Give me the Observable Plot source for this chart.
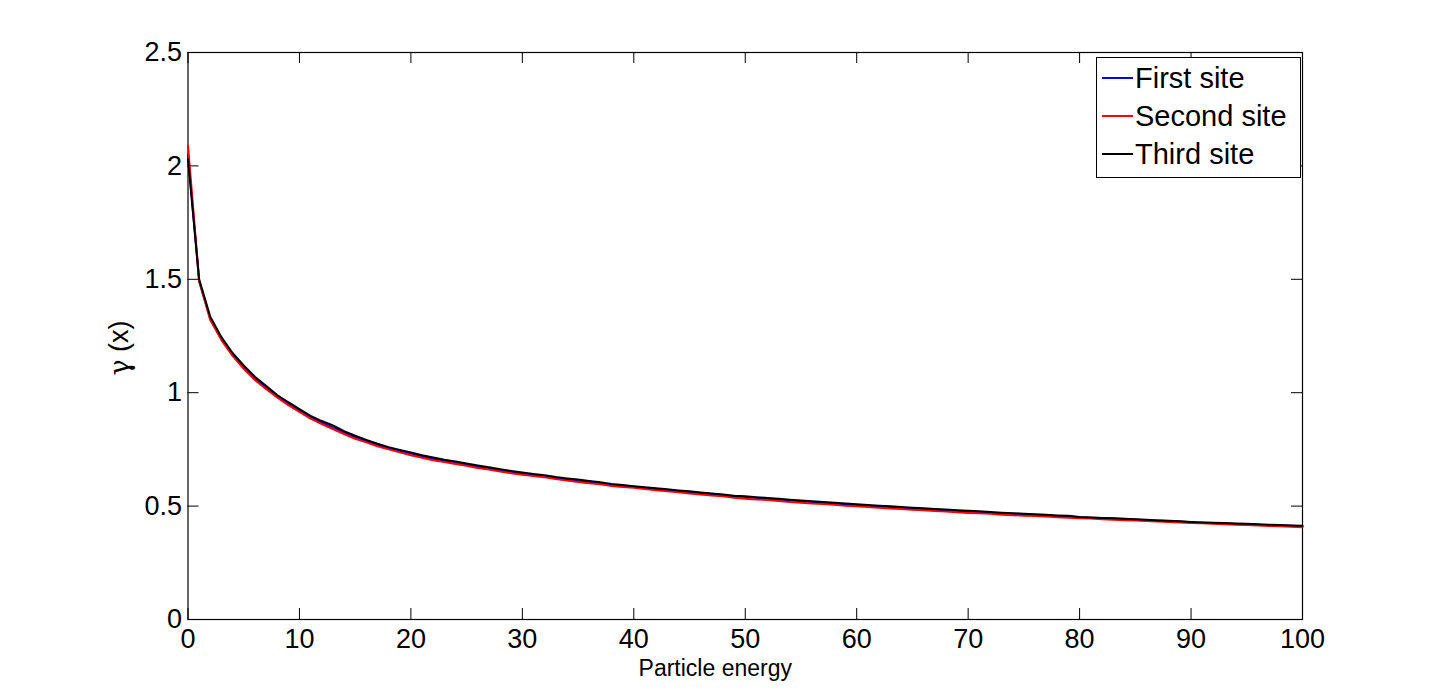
<!DOCTYPE html>
<html>
<head>
<meta charset="utf-8">
<script src="https://cdn.jsdelivr.net/npm/d3@7"></script>
<script src="https://cdn.jsdelivr.net/npm/@observablehq/plot@0.6"></script>
<style>
  html, body { margin: 0; padding: 0; background: white; }
  #chart svg { display: block; }
</style>
</head>
<body>
<div id="chart"></div>
<script>
// ---- data ----
const energy = d3.range(0, 101); // x positions 0..100 (sample grid)
const firstSite = [2.05,1.49,1.325,1.238,1.168,1.112,1.062,1.022,0.985,0.951,0.922,0.893,0.868,0.847,0.824,0.804,0.787,0.770,0.756,0.744,0.732,0.719,0.709,0.701,0.692,0.683,0.674,0.667,0.659,0.651,0.643,0.637,0.632,0.624,0.618,0.611,0.607,0.601,0.594,0.590,0.585,0.580,0.575,0.571,0.566,0.561,0.558,0.553,0.549,0.543,0.540,0.536,0.532,0.529,0.525,0.521,0.518,0.515,0.512,0.508,0.505,0.502,0.499,0.496,0.493,0.490,0.487,0.484,0.482,0.479,0.476,0.473,0.471,0.468,0.466,0.464,0.461,0.459,0.456,0.454,0.451,0.449,0.447,0.445,0.443,0.441,0.438,0.436,0.434,0.432,0.429,0.427,0.425,0.423,0.421,0.420,0.418,0.416,0.414,0.413,0.411];
const secondSite = [2.09,1.495,1.32,1.232,1.162,1.105,1.056,1.016,0.979,0.945,0.915,0.886,0.862,0.840,0.818,0.797,0.781,0.764,0.750,0.737,0.724,0.713,0.702,0.694,0.686,0.678,0.668,0.661,0.653,0.645,0.638,0.633,0.627,0.619,0.613,0.606,0.601,0.596,0.589,0.584,0.581,0.575,0.570,0.566,0.561,0.556,0.551,0.547,0.543,0.537,0.532,0.529,0.527,0.523,0.518,0.515,0.512,0.509,0.506,0.501,0.499,0.496,0.493,0.489,0.487,0.484,0.482,0.478,0.476,0.473,0.470,0.468,0.466,0.462,0.460,0.458,0.456,0.454,0.451,0.449,0.446,0.445,0.442,0.440,0.438,0.437,0.434,0.432,0.430,0.428,0.425,0.424,0.422,0.420,0.418,0.417,0.414,0.412,0.411,0.409,0.407];
const thirdSite = [2.03,1.50,1.335,1.245,1.175,1.12,1.07,1.03,0.99,0.958,0.928,0.898,0.875,0.856,0.83,0.81,0.792,0.775,0.76,0.748,0.736,0.724,0.714,0.704,0.697,0.688,0.679,0.671,0.663,0.655,0.648,0.642,0.636,0.628,0.622,0.617,0.611,0.605,0.598,0.593,0.588,0.583,0.579,0.574,0.569,0.565,0.56,0.556,0.551,0.546,0.543,0.539,0.536,0.532,0.528,0.525,0.521,0.518,0.515,0.511,0.508,0.505,0.502,0.499,0.496,0.493,0.49,0.487,0.485,0.482,0.479,0.477,0.474,0.471,0.469,0.466,0.464,0.462,0.459,0.457,0.452,0.450,0.448,0.446,0.444,0.442,0.440,0.437,0.435,0.433,0.43,0.428,0.427,0.425,0.423,0.422,0.42,0.418,0.417,0.415,0.413];
const seriesNames = ["First site", "Second site", "Third site"];
const seriesColors = ["#0000ff", "#ff0000", "#000000"];
const xTicks = [0,10,20,30,40,50,60,70,80,90,100];
const yTicks = [0,0.5,1,1.5,2,2.5];
const xLabel = "Particle energy";

// ---- build rows ----
const seriesValues = [firstSite, secondSite, thirdSite];
const rows = [];
seriesValues.forEach((vals, s) => vals.forEach((v, i) => rows.push({x: energy[i], y: v, series: seriesNames[s]})));

const W = 1440, H = 696;
const mL = 187.5, mR = 138, mT = 52, mB = 77;
const innerW = W - mL - mR, innerH = H - mT - mB;
const tick = 11;

const chart = Plot.plot({
  width: W, height: H,
  marginLeft: mL, marginRight: mR, marginTop: mT, marginBottom: mB,
  x: {domain: [0, 100]},
  y: {domain: [0, 2.5]},
  style: {fontFamily: "'Liberation Sans', Arial, Helvetica, sans-serif", fontSize: "27px", background: "white", color: "black", overflow: "visible"},
  marks: [
    Plot.frame({stroke: "black", strokeWidth: 1.2}),
    Plot.tickX(xTicks, {x: d => d, insetTop: innerH - tick, stroke: "black"}),
    Plot.tickX(xTicks, {x: d => d, insetBottom: innerH - tick, stroke: "black"}),
    Plot.tickY(yTicks, {y: d => d, insetLeft: innerW - tick, stroke: "black"}),
    Plot.tickY(yTicks, {y: d => d, insetRight: innerW - tick, stroke: "black"}),
    Plot.axisX({ticks: xTicks, tickSize: 0, tickPadding: 9, label: null, tickFormat: d => String(d)}),
    Plot.axisY({ticks: yTicks, tickSize: 0, tickPadding: 6, label: null, tickFormat: d => String(d)}),
    ...seriesNames.map((name, s) => Plot.line(rows.filter(r => r.series === name), {x: "x", y: "y", stroke: seriesColors[s], strokeWidth: 2, curve: "linear"})),
    Plot.text([xLabel], {text: d => d, frameAnchor: "bottom", dx: -30, dy: 49, fontSize: 23, lineAnchor: "middle"})
  ]
});
document.getElementById("chart").appendChild(chart);

// ---- y label and legend ----
const svg = d3.select(chart);
const yl = svg.append("text")
  .attr("transform", "translate(121,348) rotate(-90)")
  .attr("text-anchor", "middle")
  .attr("dominant-baseline", "middle")
  .attr("font-size", 27)
  .attr("fill", "black");
yl.append("tspan").attr("font-family", "'DejaVu Serif', 'Liberation Serif', serif").attr("font-style", "normal").text("γ");
yl.append("tspan").text(" (x)");

const lg = svg.append("g").attr("text-anchor", "start");
lg.append("rect").attr("x", 1096.5).attr("y", 57.5).attr("width", 204).attr("height", 120)
  .attr("fill", "white").attr("stroke", "black").attr("stroke-width", 1);
seriesNames.forEach((name, i) => {
  const yy = 78 + i * 38;
  lg.append("line").attr("x1", 1102).attr("x2", 1133).attr("y1", yy).attr("y2", yy)
    .attr("stroke", seriesColors[i]).attr("stroke-width", 2);
  lg.append("text").attr("x", 1135).attr("y", yy + 10).attr("text-anchor", "start")
    .attr("font-size", 29).attr("fill", "black").text(name);
});
</script>
</body>
</html>
